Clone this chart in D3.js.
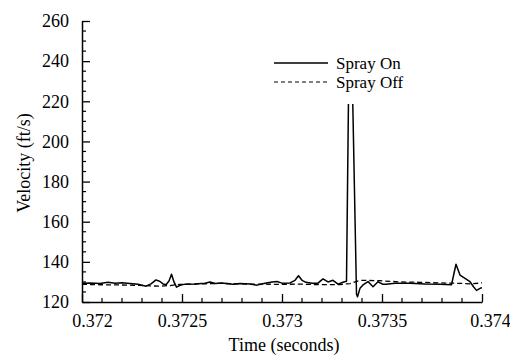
<!DOCTYPE html>
<html><head><meta charset="utf-8">
<script src="https://cdn.jsdelivr.net/npm/d3@7"></script>
<style>
html,body{margin:0;padding:0;background:#fff;}
svg{display:block;}
svg text{font-family:"Liberation Serif","DejaVu Serif","Noto Serif",serif;fill:#000;}
</style></head>
<body>
<svg id="chart" width="510" height="357"></svg>
<script>
// ---- data ----
const sprayOnTime = [0.37200,0.37204,0.37209,0.37213,0.372165,0.37220,0.37224,0.37228,0.37232,0.372345,
  0.37237,0.37239,0.372405,0.37242,0.372435,0.3724475,0.37246,0.3724725,0.37249,0.372515,
  0.372565,0.372615,0.37264,0.372665,0.37270,0.37273,0.372755,0.37279,0.37284,0.372875,
  0.372915,0.37295,0.372975,0.37300,0.37304,0.373065,0.3730825,0.37310,0.37312,0.37315,
  0.37318,0.373205,0.37323,0.373255,0.37328,0.373305,0.3733225,0.37334,0.3733725,0.3733775,
  0.37339,0.373405,0.37343,0.373455,0.37348,0.373505,0.37352,0.373565,0.37364,0.373715,
  0.37379,0.3738475,0.37387,0.37389,0.373915,0.37394,0.3739575,0.3739725,0.373995,0.37400];
const sprayOnVel = [129.3,129.5,129.2,129.8,129.4,129.6,129.2,128.8,127.9,129.0,
  131.0,130.2,129.0,128.6,130.5,133.8,130.0,127.4,128.3,128.9,
  129.0,129.3,130.0,129.2,129.5,129.1,128.8,129.2,129.0,128.4,
  129.3,130.0,130.2,129.4,129.5,130.8,133.1,130.8,129.8,129.3,
  129.4,131.5,130.0,130.8,128.9,129.8,130.3,290.0,124.0,122.6,
  126.8,128.5,130.2,127.6,130.1,128.8,128.8,129.3,129.4,129.0,
  128.8,128.6,138.8,133.4,131.8,130.1,127.6,125.8,127.0,127.1];
const sprayOffTime = [0.37200,0.37209,0.37219,0.37229,0.37234,0.37239,0.37244,0.37249,0.37259,0.37269,
  0.37279,0.37289,0.37299,0.37309,0.37319,0.37329,0.37334,0.37339,0.37349,0.37359,
  0.37369,0.37379,0.37389,0.37394,0.37400];
const sprayOffVel = [128.8,128.6,128.5,128.3,128.0,127.9,128.2,128.8,129.0,129.3,
  129.0,128.9,128.8,128.9,128.6,128.7,129.2,130.8,130.6,130.0,
  129.8,129.5,129.3,129.0,129.5];
const xTicks = [0.372,0.3725,0.373,0.3735,0.374];
const xTickLabels = ["0.372","0.3725","0.373","0.3735","0.374"];
const yTicks = [120,140,160,180,200,220,240,260];
const legendLabels = ["Spray On","Spray Off"];
const xTitle = "Time (seconds)";
const yTitle = "Velocity (ft/s)";

const FONT = '"Liberation Serif","DejaVu Serif","Noto Serif",serif';

const onData = sprayOnTime.map((t,i)=>({t, v: sprayOnVel[i]}));
const offData = sprayOffTime.map((t,i)=>({t, v: sprayOffVel[i]}));

const svg = d3.select("#chart");
const L = 82, R = 482, T = 21, B = 302;
const x = d3.scaleLinear().domain([0.372,0.374]).range([L,R]);
const y = d3.scaleLinear().domain([120,260]).range([B,T]);

const line = d3.line().x(d=>x(d.t)).y(d=>y(d.v));

svg.append("defs").append("clipPath").attr("id","clip")
  .append("rect").attr("x",L).attr("y",T).attr("width",R-L).attr("height",B-T);

const g = svg.append("g").attr("clip-path","url(#clip)");
g.append("path").datum(offData).attr("d",line)
  .attr("fill","none").attr("stroke","#000").attr("stroke-width",1.3)
  .attr("stroke-dasharray","5,3");
g.append("path").datum(onData).attr("d",line)
  .attr("fill","none").attr("stroke","#000").attr("stroke-width",1.5)
  .attr("stroke-linejoin","round");

// legend (white box hides the top of the spike, as in the reference)
const lg = svg.append("g");
lg.append("rect").attr("x",268).attr("y",T-3).attr("width",160).attr("height",104-T+3).attr("fill","#fff");
const lx0 = 274, lx1 = 328;
[0,1].forEach(i=>{
  const yy = 63 + i*19;
  lg.append("line").attr("x1",lx0).attr("x2",lx1).attr("y1",yy).attr("y2",yy)
    .attr("stroke","#000").attr("stroke-width",i?1.2:1.5)
    .attr("stroke-dasharray", i ? "4,3" : null);
  lg.append("text").attr("x",336).attr("y",yy).attr("dy","0.35em")
    .style("font-family",FONT).style("font-size","17px").text(legendLabels[i]);
});

// axes
const xAxis = d3.axisBottom(x).tickValues(xTicks).tickFormat((d,i)=>xTickLabels[i])
  .tickSizeInner(-8).tickSizeOuter(0).tickPadding(12);
const xg = svg.append("g").attr("transform",`translate(0,${B})`).call(xAxis)
  .attr("font-family",FONT).attr("font-size",18);
xg.select(".domain").attr("stroke","#000").attr("stroke-width",1.5);
xg.selectAll(".tick line").attr("stroke","#000").attr("stroke-width",1.3);
xg.selectAll(".tick text").style("font-family",FONT).style("font-size","18px");
xg.selectAll(".tick text").filter((d,i)=>i===0).attr("dx",10);
xg.selectAll(".tick text").filter((d,i)=>i===xTicks.length-1).attr("dx",8);
// minor x ticks
const xMinor = d3.range(0,21).map(i=>0.372+i*0.0001).filter(v=>!xTicks.some(t=>Math.abs(t-v)<1e-9));
svg.append("g").selectAll("line").data(xMinor).join("line")
  .attr("x1",d=>x(d)).attr("x2",d=>x(d)).attr("y1",B).attr("y2",B-4)
  .attr("stroke","#000").attr("stroke-width",1.2);

const yAxis = d3.axisLeft(y).tickValues(yTicks).tickFormat(d3.format("d"))
  .tickSizeInner(-8).tickSizeOuter(0).tickPadding(13);
const yg = svg.append("g").attr("transform",`translate(${L},0)`).call(yAxis)
  .attr("font-family",FONT).attr("font-size",18);
yg.select(".domain").attr("stroke","#000").attr("stroke-width",1.5);
yg.selectAll(".tick line").attr("stroke","#000").attr("stroke-width",1.3);
yg.selectAll(".tick text").style("font-family",FONT).style("font-size","18px");
const yMinor = d3.range(120,261,5).filter(v=>v%20!==0);
svg.append("g").selectAll("line").data(yMinor).join("line")
  .attr("x1",L).attr("x2",L+4).attr("y1",d=>y(d)).attr("y2",d=>y(d))
  .attr("stroke","#000").attr("stroke-width",1.2);

// titles
svg.append("text").attr("x",(L+R)/2+2).attr("y",345).attr("text-anchor","middle")
  .attr("dy","0.35em").style("font-family",FONT).style("font-size","18px").text(xTitle);
svg.append("text").attr("transform","translate(24,163) rotate(-90)")
  .attr("text-anchor","middle").attr("dy","0.35em")
  .style("font-family",FONT).style("font-size","18px").text(yTitle);
</script>
</body></html>
